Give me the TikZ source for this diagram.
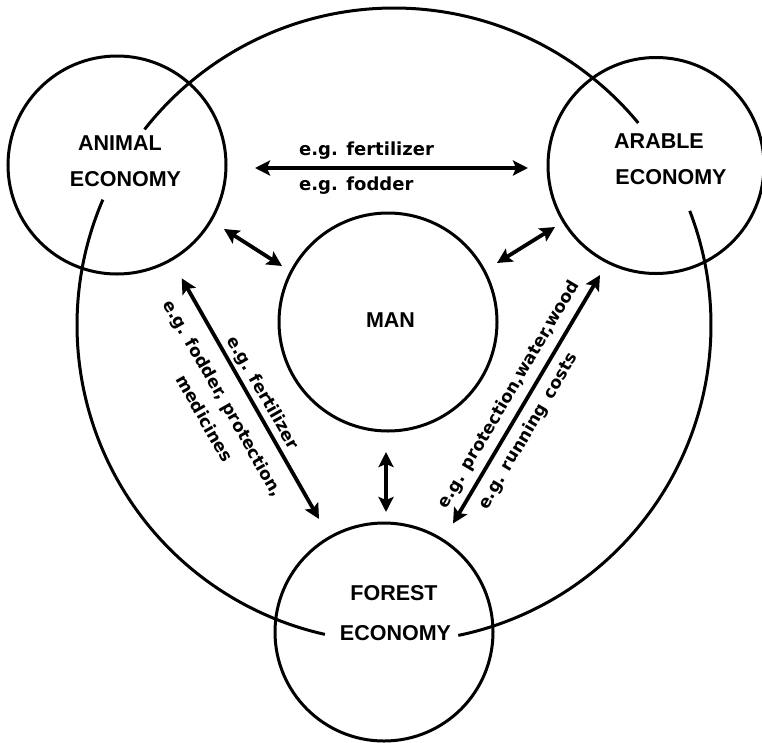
\documentclass[tikz,border=0pt]{standalone}
\usepackage{fontspec}
\setmainfont{DejaVu Sans}
\newfontfamily\capsfont{Liberation Sans}
\usetikzlibrary{arrows.meta}
\begin{document}
\begin{tikzpicture}[x=1pt,y=-1pt,
  ring/.style={draw, line width=3pt},
  disc/.style={circle, draw, line width=3pt, minimum size=#1, inner sep=0pt},
  both/.style={line width=3.8pt, {Stealth[length=15pt,width=15pt,inset=3pt]}-{Stealth[length=15pt,width=15pt,inset=3pt]}},
  captext/.style={font=\capsfont\bfseries\fontsize{21.5}{21.5}\selectfont, inner sep=0pt},
  eg/.style={font=\bfseries\fontsize{18}{18}\selectfont, inner sep=0pt},
  egd/.style={font=\bfseries\fontsize{17}{17}\selectfont, inner sep=0pt},
]
\useasboundingbox (0,0) rectangle (762,742);

% small circles
\node[disc=218pt] (animal) at (117,165) {};
\node[disc=216pt] (arable) at (656,165.5) {};
\node[disc=218pt] (forest) at (384,632) {};
\node[disc=218pt] (man) at (388,322) {};

% big circle, broken at the labels
\coordinate (bigc) at (394,325);
\draw[ring] ([shift={(39.6:317pt)}]bigc) arc[start angle=39.6, end angle=141.9, radius=317pt];
\draw[ring] ([shift={(156.7:317pt)}]bigc) arc[start angle=156.7, end angle=257.4, radius=317pt];
\draw[ring] ([shift={(-78.3:317pt)}]bigc) arc[start angle=-78.3, end angle=21.1, radius=317pt];

% labels in circles
\node[captext] (animalA) at (120,143.5) {ANIMAL};
\node[captext] (animalB) at (125.5,179) {ECONOMY};
\node[captext] (arableA) at (659,141.5) {ARABLE};
\node[captext] (arableB) at (671,177) {ECONOMY};
\node[captext] (forestA) at (394,593.5) {FOREST};
\node[captext] (forestB) at (395.5,633) {ECONOMY};
\node[captext] (manA) at (390.5,320.5) {MAN};

% arrow end points
\coordinate (h1) at (255,168);
\coordinate (h2) at (528,168);
\coordinate (am1) at (224,229);
\coordinate (am2) at (282,266);
\coordinate (rm1) at (555,227);
\coordinate (rm2) at (497,263);
\coordinate (mf1) at (386,452);
\coordinate (mf2) at (386,512);
\coordinate (af1) at (181.7,278.3);
\coordinate (af2) at (319,519);
\coordinate (fr1) at (453,523.5);
\coordinate (fr2) at (600,275);

\draw[both] (h1) -- (h2);
\draw[both] (am1) -- (am2);
\draw[both] (rm1) -- (rm2);
\draw[both] (mf1) -- (mf2);
\draw[both] (af1) -- (af2);
\draw[both] (fr1) -- (fr2);

% arrow labels
\node[eg, anchor=base west] (t1) at (299,155) {e.g. fertilizer};
\node[eg, anchor=base west] (t2) at (299,190) {e.g. fodder};
\node[egd, rotate=-60.3] (t3) at (262.3,393.3) {e.g. fertilizer};
\node[egd, rotate=-60.3] (t4) at (222.3,399) {e.g. fodder, protection,};
\node[egd, rotate=-60.3] (t5) at (205,418.3) {medicines};
\node[egd, rotate=59.4] (t6) at (509.4,394.8) {e.g. protection,water,wood};
\node[egd, rotate=59.4] (t7) at (528.4,431.4) {e.g. running\, costs};
\end{tikzpicture}
\end{document}
